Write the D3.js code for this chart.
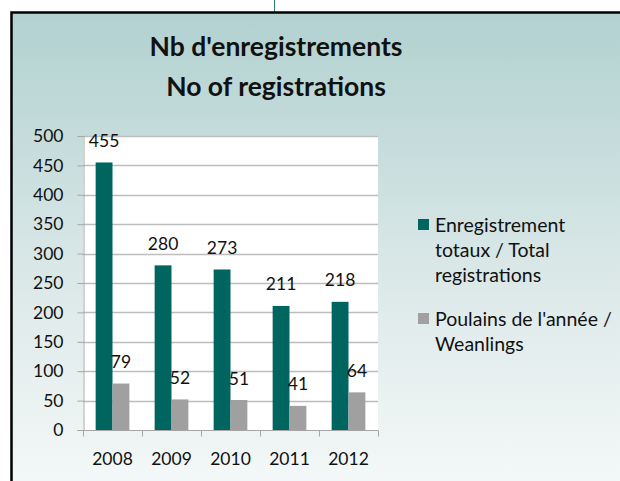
<!DOCTYPE html>
<html>
<head>
<meta charset="utf-8">
<script src="https://cdn.jsdelivr.net/npm/d3@7"></script>
<style>
  html, body { margin: 0; padding: 0; background: #ffffff; }
  svg { display: block; font-family: Lato, "Open Sans", sans-serif; }
</style>
</head>
<body>
<div id="chart"></div>
<script>
// data
var years = ["2008", "2009", "2010", "2011", "2012"];
var totals = [455, 280, 273, 211, 218];
var weanlings = [79, 52, 51, 41, 64];
var seriesNames = ["totals", "weanlings"];
var yTicks = [0, 50, 100, 150, 200, 250, 300, 350, 400, 450, 500];
var titleLines = ["Nb d'enregistrements", "No of registrations"];
var legendTotals = ["Enregistrement", "totaux / Total", "registrations"];
var legendWeanlings = ["Poulains de l'année /", "Weanlings"];

var width = 620, height = 481;
var teal = "#00655f", grey = "#a0a0a0";

var svg = d3.select("#chart").append("svg")
    .attr("width", width)
    .attr("height", height);

// background gradient of the chart frame
var defs = svg.append("defs");
var grad = defs.append("linearGradient")
    .attr("id", "bg").attr("x1", 0).attr("y1", 0).attr("x2", 0).attr("y2", 1);
grad.append("stop").attr("offset", "0%").attr("stop-color", "#b1d1d0");
grad.append("stop").attr("offset", "55%").attr("stop-color", "#dde9e9");
grad.append("stop").attr("offset", "100%").attr("stop-color", "#f7fafa");

// little connector line above the frame
svg.append("line")
    .attr("x1", 274.5).attr("x2", 274.5).attr("y1", 0).attr("y2", 12)
    .style("stroke", "#2b7d7c").style("stroke-width", 1);

svg.append("rect")
    .attr("x", 11.5).attr("y", 12.5)
    .attr("width", 640).attr("height", 500)
    .style("fill", "url(#bg)")
    .style("stroke", "#000").style("stroke-width", 2.5);

// title
svg.append("g").selectAll("text")
    .data(titleLines)
  .enter().append("text")
    .attr("x", 276)
    .attr("y", function(d, i) { return 56 + i * 40; })
    .attr("text-anchor", "middle")
    .style("font-size", "26.5px")
    .style("font-weight", "bold")
    .style("fill", "#111")
    .text(function(d) { return d; });

// scales
var x = d3.scaleBand().domain(years).range([83, 378]);
var bw = x.bandwidth();
var xSub = d3.scaleBand().domain(seriesNames)
    .range([bw * 0.75 / 3.5, bw - bw * 0.75 / 3.5]);
var y = d3.scaleLinear().domain([0, 500]).range([430, 136]);

// plot area
svg.append("rect")
    .attr("x", x.range()[0]).attr("y", y(500))
    .attr("width", x.range()[1] - x.range()[0])
    .attr("height", y(0) - y(500))
    .style("fill", "#fff");

svg.append("g").selectAll("line")
    .data(yTicks.filter(function(d) { return d > 0; }))
  .enter().append("line")
    .attr("x1", x.range()[0]).attr("x2", x.range()[1])
    .attr("y1", function(d) { return Math.round(y(d)) + 0.5; })
    .attr("y2", function(d) { return Math.round(y(d)) + 0.5; })
    .style("stroke", "#bdbdbd").style("stroke-width", 1.5);

// y axis
var yAxis = svg.append("g")
    .attr("transform", "translate(83.5,0)")
    .call(d3.axisLeft(y).tickValues(yTicks).tickSize(6).tickPadding(14));
yAxis.select(".domain").style("stroke", "#a6a6a6");
yAxis.selectAll(".tick line").style("stroke", "#a6a6a6");
yAxis.selectAll("text")
    .style("font-size", "17.5px")
    .style("font-family", "Lato, sans-serif")
    .style("fill", "#111");

// bars
var rows = years.map(function(yr, i) {
  return { year: yr, values: [totals[i], weanlings[i]] };
});
var colors = [teal, grey];

var groups = svg.append("g").selectAll("g")
    .data(rows)
  .enter().append("g")
    .attr("transform", function(d) { return "translate(" + x(d.year) + ",0)"; });

groups.selectAll("rect")
    .data(function(d) { return d.values; })
  .enter().append("rect")
    .attr("x", function(d, i) { return xSub(seriesNames[i]); })
    .attr("width", xSub.bandwidth())
    .attr("y", function(d) { return y(d); })
    .attr("height", function(d) { return y(0) - y(d); })
    .style("fill", function(d, i) { return colors[i]; });

// data labels
groups.selectAll("text")
    .data(function(d) { return d.values; })
  .enter().append("text")
    .attr("x", function(d, i) { return xSub(seriesNames[i]) + xSub.bandwidth() / 2; })
    .attr("y", function(d) { return y(d) - 15.5; })
    .attr("text-anchor", "middle")
    .style("font-size", "17.5px")
    .style("fill", "#111")
    .text(function(d) { return d; });

// x axis
var xAxis = svg.append("g");
xAxis.append("line")
    .attr("x1", x.range()[0]).attr("x2", x.range()[1])
    .attr("y1", 430.5).attr("y2", 430.5)
    .style("stroke", "#a6a6a6");
xAxis.selectAll(".xt")
    .data(years.concat(["end"]))
  .enter().append("line")
    .attr("class", "xt")
    .attr("x1", function(d) { return Math.round(d === "end" ? x.range()[1] : x(d)) + 0.5; })
    .attr("x2", function(d) { return Math.round(d === "end" ? x.range()[1] : x(d)) + 0.5; })
    .attr("y1", 430.5).attr("y2", 436.5)
    .style("stroke", "#a6a6a6");
xAxis.selectAll("text")
    .data(years)
  .enter().append("text")
    .attr("x", function(d) { return x(d) + bw / 2; })
    .attr("y", 465)
    .attr("text-anchor", "middle")
    .style("font-size", "17.5px")
    .style("fill", "#111")
    .text(function(d) { return d; });

// legend
var legend = [
  { color: teal, lines: legendTotals, top: 219 },
  { color: grey, lines: legendWeanlings, top: 313 }
];
var lg = svg.append("g").selectAll("g")
    .data(legend)
  .enter().append("g");
lg.append("rect")
    .attr("x", 418).attr("y", function(d) { return d.top; })
    .attr("width", 11).attr("height", 11)
    .style("fill", function(d) { return d.color; });
lg.each(function(d) {
  d3.select(this).selectAll("text")
      .data(d.lines)
    .enter().append("text")
      .attr("x", 435)
      .attr("y", function(t, i) { return d.top + 13 + i * 25; })
      .style("font-size", "19.5px")
      .style("fill", "#111")
      .text(function(t) { return t; });
});
</script>
</body>
</html>
